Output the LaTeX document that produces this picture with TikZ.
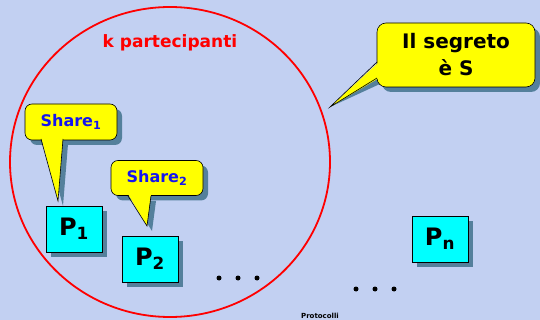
\documentclass[tikz,border=0pt]{standalone}
\usepackage{fontspec}
\setmainfont{DejaVu Sans}
\usetikzlibrary{shadows}
\definecolor{bgblue}{RGB}{194,208,242}
\definecolor{shadowblue}{RGB}{84,128,156}
\definecolor{sharetext}{RGB}{20,20,240}
\definecolor{boxcyan}{RGB}{0,255,255}
\definecolor{calloutyellow}{RGB}{255,255,0}
\definecolor{ringred}{RGB}{255,0,0}

\begin{document}
\begin{tikzpicture}[
    x=1pt, y=-1pt,
    shad/.style={drop shadow={shadow xshift=5pt, shadow yshift=-5pt, fill=shadowblue, opacity=1}},
    bubble/.style={draw=black, line width=0.6pt, fill=calloutyellow, rounded corners=7pt, inner sep=0pt, shad},
    ptrshadow/.style={fill=shadowblue, xshift=5pt, yshift=-5pt},
    ptr/.style={draw=black, line width=0.6pt, line join=miter},
    pbox/.style={draw=black, line width=0.6pt, fill=boxcyan, minimum width=56pt, minimum height=46pt, inner sep=0pt, font=\bfseries\fontsize{24}{24}\selectfont, shad},
    sharelbl/.style={font=\bfseries\fontsize{16}{16}\selectfont, text=sharetext},
    dot/.style={circle, fill=black, inner sep=0pt, minimum size=5pt}
]
\useasboundingbox (0,0) rectangle (540,320);
\fill[bgblue] (0,0) rectangle (540,320);

% the k participants
\draw[ringred, line width=1.8pt] (170,162) ellipse [x radius=160, y radius=155];
\node[text=ringred, font=\bfseries\fontsize{17}{17}\selectfont] (kpart) at (170,43) {k partecipanti};

% callout: il segreto
\coordinate (tipS) at (330,107);
\fill[ptrshadow] (377,62) -- (tipS) -- (377,78) -- cycle;
\node[bubble, rounded corners=9pt, minimum width=158pt, minimum height=64pt, align=center,
      font=\bfseries\fontsize{20}{27}\selectfont] (segreto) at (456,55) {Il segreto\\è S};
\fill[calloutyellow] (379,62) -- (tipS) -- (379,78) -- cycle;
\draw[ptr] (377,62) -- (tipS) -- (377,78);

% callout: share 1
\fill[ptrshadow] (41,139) -- (58,201) -- (63,139) -- cycle;
\node[bubble, minimum width=92pt, minimum height=36pt, sharelbl] (share1) at (71,122) {Share\textsubscript{1}};
\fill[calloutyellow] (41,137) -- (58,201) -- (63,137) -- cycle;
\draw[ptr] (41,139) -- (58,201) -- (63,139);

% callout: share 2
\fill[ptrshadow] (128,196) -- (147,226) -- (151,196) -- cycle;
\node[bubble, minimum width=92pt, minimum height=35pt, sharelbl] (share2) at (157,178) {Share\textsubscript{2}};
\fill[calloutyellow] (128,194) -- (147,226) -- (151,194) -- cycle;
\draw[ptr] (128,196) -- (147,226) -- (151,196);

% participants
\node[pbox] (p1) at (74,229) {P\textsubscript{1}};
\node[pbox] (p2) at (150,259) {P\textsubscript{2}};
\node[pbox] (pn) at (440,239) {P\textsubscript{n}};

\foreach \x [count=\i] in {219,238,257}
    \node[dot] (da\i) at (\x,278) {};
\foreach \x [count=\i] in {356,375,394}
    \node[dot] (db\i) at (\x,289) {};

\node[anchor=south, font=\bfseries\fontsize{7}{7}\selectfont, inner sep=0pt] (foot) at (320,319) {Protocolli};
\end{tikzpicture}
\end{document}
